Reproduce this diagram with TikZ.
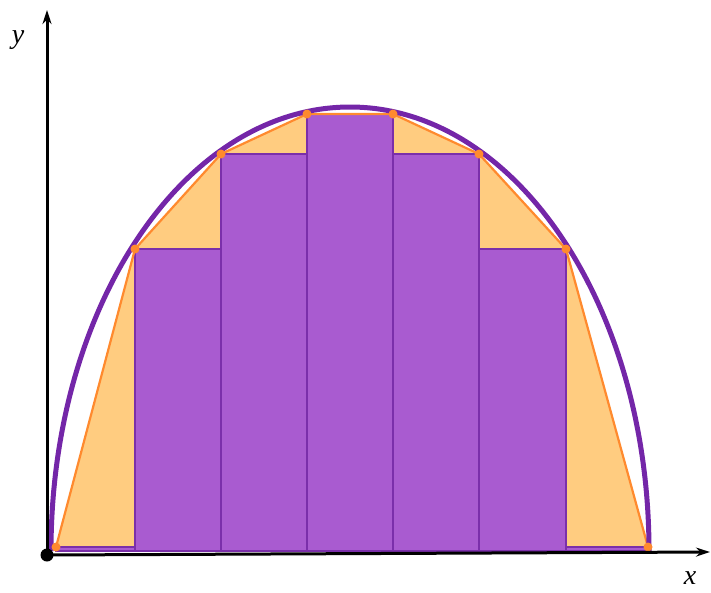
\documentclass[tikz,border=0pt]{standalone}
\usepackage{fontspec}
\setmainfont{Liberation Serif}
\usetikzlibrary{arrows.meta}
\definecolor{barfill}{HTML}{A95BD0}
\definecolor{barline}{HTML}{7B2FAA}
\definecolor{curvec}{HTML}{7426A8}
\definecolor{orfill}{HTML}{FFCC80}
\definecolor{orline}{HTML}{FF8A2E}
\tikzset{
  bar/.style={fill=barfill,draw=barline,line width=2pt},
  pt/.style={circle,fill=orline,inner sep=0pt,minimum size=9pt},
  axis/.style={line width=3pt,-{Stealth[length=14pt,width=9pt]}},
  lab/.style={font=\fontsize{28}{28}\selectfont\itshape}
}
\begin{document}
\begin{tikzpicture}[x=1pt,y=-1pt]
\useasboundingbox (0,0) rectangle (711,592);
% trapezoid region
\fill[orfill] (56,549) -- (135,249) -- (221,154) -- (307,114) -- (393,114) -- (479,154) -- (566,249) -- (648,549) -- cycle;
% bars
\draw[bar] (56,547) rectangle (135,551);
\draw[bar] (135,249) rectangle (221,551);
\draw[bar] (221,154) rectangle (307,551);
\draw[bar] (307,114) rectangle (393,551);
\draw[bar] (393,154) rectangle (479,551);
\draw[bar] (479,249) rectangle (566,551);
\draw[bar] (566,547) rectangle (648,551);
% polygon
\coordinate (p0) at (56,547);
\coordinate (p1) at (135,249);
\coordinate (p2) at (221,154);
\coordinate (p3) at (307,114);
\coordinate (p4) at (393,114);
\coordinate (p5) at (479,154);
\coordinate (p6) at (566,249);
\coordinate (p7) at (648,547);
\draw[orline,line width=2.2pt,line join=round] (p0) -- (p1) -- (p2) -- (p3) -- (p4) -- (p5) -- (p6) -- (p7);
% curve
\draw[curvec,line width=5pt] (51,551) arc[start angle=180,end angle=0,x radius=299,y radius=-444];
% points
\foreach \i in {0,...,7} \node[pt] at (p\i) {};
% axes
\coordinate (O) at (47,555);
\coordinate (X) at (710,552);
\coordinate (Y) at (47,10);
\draw[axis] (O) -- (X);
\draw[axis] (O) -- (Y);
\fill (O) circle (6.5pt);
\node[lab] (xl) at (690,578) {x};
\node[lab] (yl) at (18,40) {y};
\end{tikzpicture}
\end{document}
